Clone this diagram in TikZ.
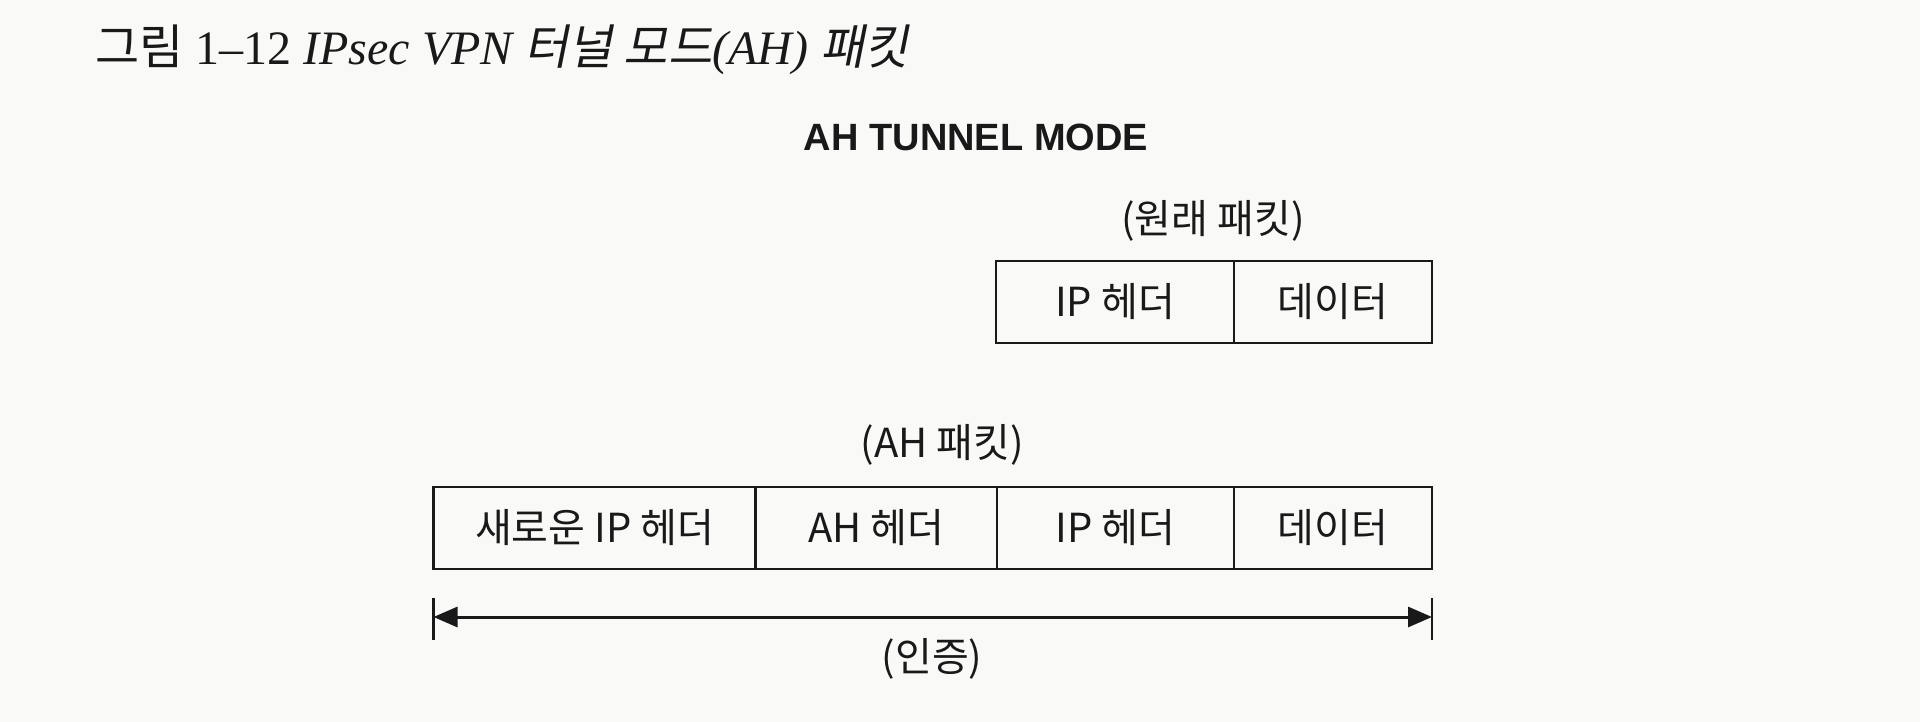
\documentclass[tikz,border=0pt]{standalone}
\usepackage{fontspec}
\setmainfont{Liberation Serif}
\newfontfamily\kr{Noto Sans CJK KR}
\newfontfamily\krit[FakeSlant=0.2]{Noto Sans CJK KR}
\newfontfamily\hv{Liberation Sans}
\usetikzlibrary{arrows.meta}
\definecolor{ink}{RGB}{25,25,25}
\definecolor{paper}{RGB}{249,249,248}
\begin{document}
\begin{tikzpicture}[x=1pt,y=-1pt,
  cell/.style={draw=ink,line width=2.2pt,minimum height=82pt,inner sep=0pt,outer sep=0pt,anchor=west,font=\kr\fontsize{40}{44}\selectfont,text=ink},
  lbl/.style={font=\kr\fontsize{40}{44}\selectfont,text=ink,inner sep=0pt},
  tick/.style={draw=ink,line width=2.2pt},
  span/.style={draw=ink,line width=3pt,{Triangle[length=24pt,width=20pt]}-{Triangle[length=24pt,width=20pt]}}
]
\fill[paper] (0,0) rectangle (1920,722);
\useasboundingbox (0,0) rectangle (1920,722);

\node[anchor=west,inner sep=0pt,text=ink,font=\fontsize{48}{52}\selectfont] (title) at (95,50)
  {{\kr 그림} 1–12 {\itshape IPsec VPN} {\krit 터널 모드}{\itshape (AH)} {\krit 패킷}};

\node[font=\hv\bfseries\fontsize{38}{42}\selectfont,text=ink,inner sep=0pt] (mode) at (976,137) {AH TUNNEL MODE};

\node[lbl] (olbl) at (1213,221) {(원래 패킷)};
\node[cell,minimum width=238pt] (o1) at (996,302) {IP 헤더};
\node[cell,minimum width=198pt] (o2) at (o1.east) {데이터};

\node[lbl] (albl) at (942,445) {(AH 패킷)};
\node[cell,minimum width=322pt] (n1) at (433.5,528) {새로운 IP 헤더};
\node[cell,minimum width=241.5pt] (n2) at (n1.east) {AH 헤더};
\node[cell,minimum width=237pt] (n3) at (n2.east) {IP 헤더};
\node[cell,minimum width=198pt] (n4) at (n3.east) {데이터};

\path (n1.south west) ++(0,48) coordinate (aL);
\path (n4.south east) ++(0,48) coordinate (aR);
\draw[span] (aL) -- (aR);
\draw[tick] ([yshift=19pt]aL) -- ([yshift=-23pt]aL);
\draw[tick] ([yshift=19pt]aR) -- ([yshift=-23pt]aR);

\node[lbl] (auth) at (932,659) {(인증)};
\end{tikzpicture}
\end{document}
